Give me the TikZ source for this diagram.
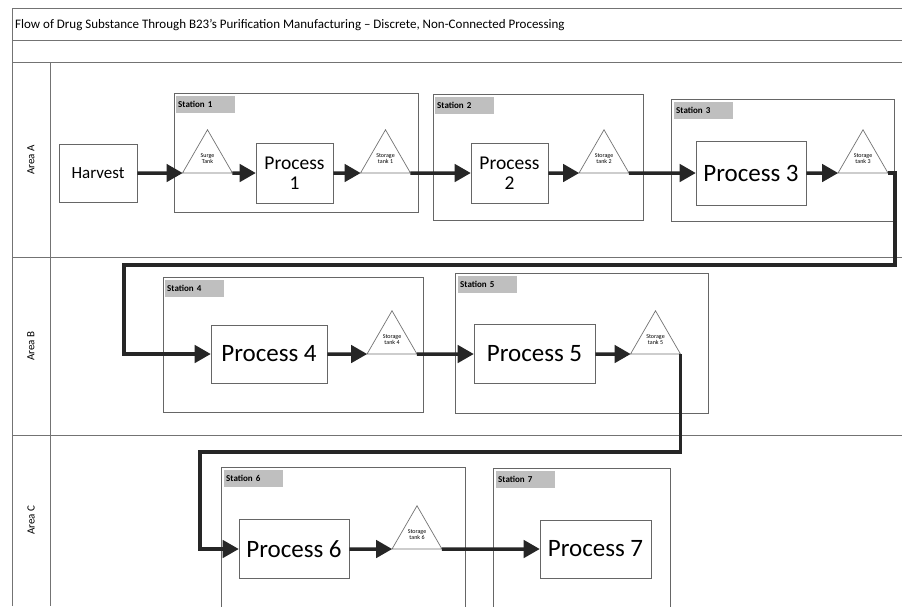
\documentclass[tikz,border=0pt]{standalone}
\usepackage{fontspec}
\setmainfont{Carlito}
\usepackage{tikz}
\usetikzlibrary{arrows,shapes.geometric}

\tikzset{
  frameline/.style={draw=black!55, line width=0.7pt},
  stationbox/.style={draw=black!60, line width=0.8pt},
  tag/.style={fill=black!25, inner sep=2pt, minimum width=59pt, minimum height=17pt,
    text width=55pt, font=\bfseries\fontsize{9}{10}\selectfont, anchor=north west},
  proc/.style={draw=black!60, line width=0.8pt, fill=white, align=center, inner sep=1pt},
  tank/.style={regular polygon, regular polygon sides=3, minimum size=57.7pt, inner sep=0pt,
    outer sep=0pt, draw=black!55, line width=0.7pt, align=center,
    font=\fontsize{6}{6.5}\selectfont},
  flow/.style={draw=black!85, line width=3.5pt, -triangle 60},
  lanelabel/.style={rotate=90, font=\fontsize{11}{13}\selectfont}
}

\begin{document}
\begin{tikzpicture}[x=1pt,y=-1pt]
        \clip (0,0) rectangle (902,606);
        \fill[white] (0,0) rectangle (902,606);
        % frame and lanes
        \draw[frameline] (12,606) -- (12,8) -- (902,8);
        \draw[frameline] (12,40) -- (902,40);
        \draw[frameline] (12,62) -- (902,62);
        \draw[frameline] (12,257) -- (902,257);
        \draw[frameline] (12,435) -- (902,435);
        \draw[frameline] (50,62) -- (50,606);
        \node[anchor=west, font=\fontsize{13}{15}\selectfont, inner sep=0pt] (title) at (15,25)
          {Flow of Drug Substance Through B23's Purification Manufacturing – Discrete, Non-Connected Processing};
        \node[lanelabel] (areaA) at (31,160) {Area A};
        \node[lanelabel] (areaB) at (31,346) {Area B};
        \node[lanelabel] (areaC) at (31,520) {Area C};

        % stations
        \draw[stationbox] (174,93) rectangle (418,212);
        \draw[stationbox] (433,94) rectangle (643,220);
        \draw[stationbox] (671,99) rectangle (894,221);
        \draw[stationbox] (163,277) rectangle (423,412);
        \draw[stationbox] (455,273) rectangle (708,413);
        \draw[stationbox] (221,467) rectangle (465,612);
        \draw[stationbox] (493,468) rectangle (670,612);
        \node[tag] (tag1) at (176,96) {Station 1};
        \node[tag] (tag2) at (435,97) {Station 2};
        \node[tag] (tag3) at (674,102) {Station 3};
        \node[tag] (tag4) at (165,280) {Station 4};
        \node[tag] (tag5) at (458,276) {Station 5};
        \node[tag] (tag6) at (224,470) {Station 6};
        \node[tag] (tag7) at (496,471) {Station 7};

        % area A
        \node[proc, minimum width=78pt, minimum height=58pt, font=\fontsize{17}{19}\selectfont] (harvest) at (98,173) {Harvest};
        \node[tank] (t0) at (207.5,158.6) {Surge\\Tank};
        \node[proc, minimum width=77pt, minimum height=60pt, font=\fontsize{19.5}{20}\selectfont] (p1) at (294.5,173) {Process\\1};
        \node[tank] (t1) at (385.5,158.6) {Storage\\tank 1};
        \node[proc, minimum width=77pt, minimum height=60pt, font=\fontsize{19.5}{20}\selectfont] (p2) at (509.5,173) {Process\\2};
        \node[tank] (t2) at (604,158.6) {Storage\\tank 2};
        \node[proc, minimum width=110pt, minimum height=64pt, font=\fontsize{25}{27}\selectfont] (p3) at (751,173) {Process 3};
        \node[tank] (t3) at (863,158.6) {Storage\\tank 3};

        % area B
        \node[proc, minimum width=116pt, minimum height=58pt, font=\fontsize{25}{27}\selectfont] (p4) at (269,354) {Process 4};
        \node[tank] (t4) at (392,339.6) {Storage\\tank 4};
        \node[proc, minimum width=121pt, minimum height=59pt, font=\fontsize{25}{27}\selectfont] (p5) at (534.5,354) {Process 5};
        \node[tank] (t5) at (655.5,339.6) {Storage\\tank 5};

        % area C
        \node[proc, minimum width=110pt, minimum height=59pt, font=\fontsize{25}{27}\selectfont] (p6) at (294,549) {Process 6};
        \node[tank] (t6) at (417,534.6) {Storage\\tank 6};
        \node[proc, minimum width=111pt, minimum height=58pt, font=\fontsize{25}{27}\selectfont] (p7) at (595.5,549) {Process 7};

        \coordinate (bendA) at (895,265);
        \coordinate (bendB) at (124,265);
        \coordinate (bendC) at (200,452);

        % flow
        \draw[flow] (harvest.east) -- (t0.corner 2);
        \draw[flow] (t0.corner 3) -- (p1.west);
        \draw[flow] (p1.east) -- (t1.corner 2);
        \draw[flow] (t1.corner 3) -- (p2.west);
        \draw[flow] (p2.east) -- (t2.corner 2);
        \draw[flow] (t2.corner 3) -- (p3.west);
        \draw[flow] (p3.east) -- (t3.corner 2);
        \draw[flow] (t3.corner 3) -| (bendA) -- (bendB) |- (p4.west);
        \draw[flow] (p4.east) -- (t4.corner 2);
        \draw[flow] (t4.corner 3) -- (p5.west);
        \draw[flow] (p5.east) -- (t5.corner 2);
        \draw[flow] (t5.corner 3) |- (bendC) |- (p6.west);
        \draw[flow] (p6.east) -- (t6.corner 2);
        \draw[flow] (t6.corner 3) -- (p7.west);
\end{tikzpicture}
\end{document}
